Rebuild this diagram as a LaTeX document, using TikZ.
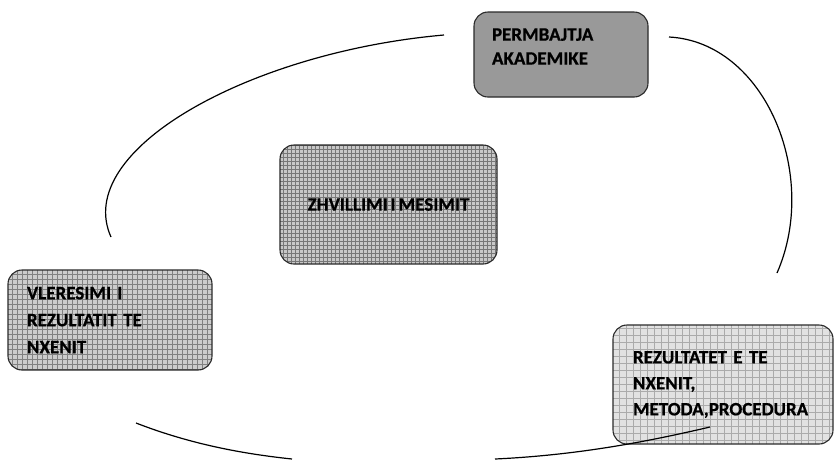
\documentclass[tikz,border=0pt]{standalone}
\usepackage{fontspec}
\setmainfont{Carlito}[BoldFont={Carlito Bold}, BoldFeatures={FakeBold=0.6}]
\definecolor{topfill}{HTML}{999999}
\definecolor{midfill}{HTML}{C8C8C8}
\definecolor{midgrid}{HTML}{777777}
\definecolor{leftfill}{HTML}{CCCCCC}
\definecolor{leftgrid}{HTML}{808080}
\definecolor{rightfill}{HTML}{E2E2E2}
\definecolor{rightgrid}{HTML}{ABABAB}
\definecolor{edge}{HTML}{2A2A2A}
\newcommand{\boxfont}[1]{\bfseries\fontsize{19}{#1}\selectfont\spaceskip=0.15em\relax\xspaceskip=0.15em\relax}
\tikzset{
  box/.style={draw=edge, line width=1.1pt, rounded corners=14pt, inner ysep=0pt,
    font=\boxfont{27}, align=left},
  gridded/.style 2 args={path picture={\draw[#1, line width=0.6pt, step=#2]
    (path picture bounding box.south west) grid (path picture bounding box.north east);}},
  curve/.style={line width=1.2pt, black}
}
\begin{document}
\begin{tikzpicture}[x=1pt,y=-1pt]
\useasboundingbox (0,0) rectangle (834,459);
% boxes
\node[box, fill=topfill, minimum width=174pt, minimum height=85pt, inner xsep=18pt,
      text width=138pt, font=\boxfont{24}] (pa) at (561,54.5)
      {PERMBAJTJA\\AKADEMIKE\\[-8pt]\rule{0pt}{10pt}};
\node[box, fill=midfill, gridded={midgrid}{4pt}, minimum width=217pt, minimum height=119pt,
      align=center] (zm) at (388.5,204.5) {\raisebox{-5pt}{ZHVILLIMI I MESIMIT}};
\node[box, fill=leftfill, gridded={leftgrid}{5pt}, minimum width=204pt, minimum height=100pt,
      inner xsep=19pt, text width=166pt] (vr) at (110,320) {VLERESIMI I\\REZULTATIT TE\\NXENIT};
\node[box, fill=rightfill, gridded={rightgrid}{7pt}, minimum width=220pt, minimum height=119pt,
      inner xsep=20pt, text width=180pt, font=\boxfont{26}] (rz) at (723,384.5)
      {REZULTATET E TE\\NXENIT,\\METODA,PROCEDURA};
% connecting curves
\coordinate (c1s) at (444,35);
\coordinate (c1e) at (111,237);
\coordinate (c2s) at (669,37);
\coordinate (c2e) at (777,273);
\coordinate (c3s) at (136,423);
\coordinate (c3e) at (292,459);
\coordinate (c4s) at (495,459);
\coordinate (c4e) at (710,427);
\draw[curve] (c1s) .. controls (250,52) and (72,150) .. (c1e);
\draw[curve] (c2s) .. controls (765,42) and (820,175) .. (c2e);
\draw[curve] (c3s) .. controls (185,442) and (235,453) .. (c3e);
\draw[curve] (c4s) .. controls (580,455) and (650,441) .. (c4e);
\end{tikzpicture}
\end{document}
